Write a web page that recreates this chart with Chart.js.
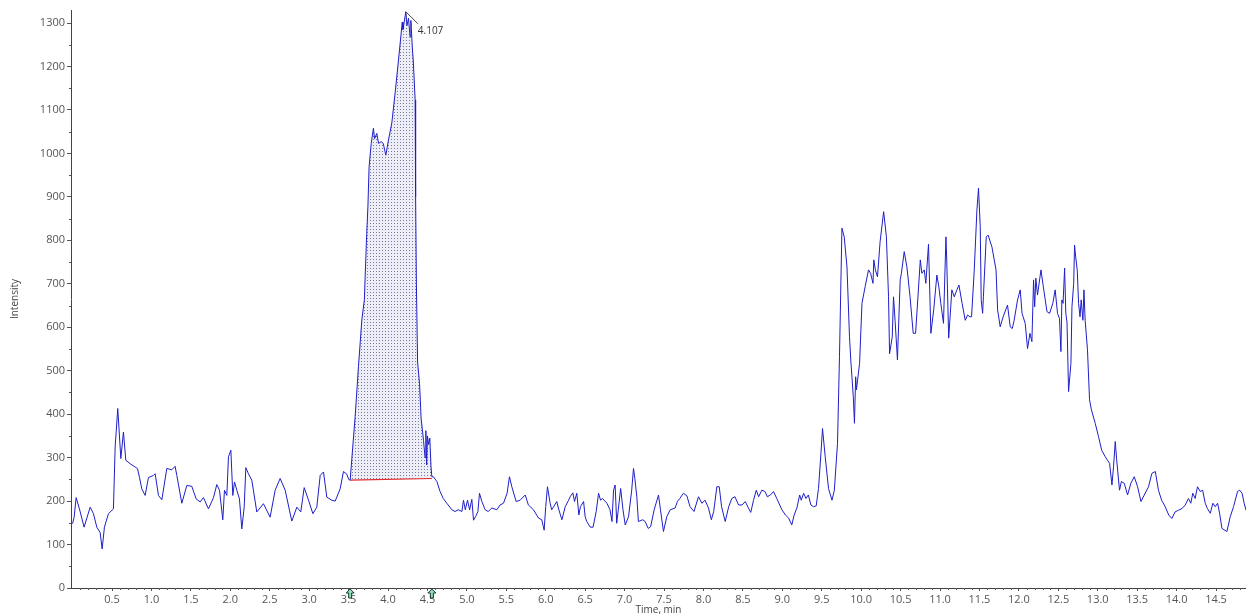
<!DOCTYPE html>
<html>
<head>
<meta charset="utf-8">
<script src="https://cdn.jsdelivr.net/npm/chart.js@4.4.1/dist/chart.umd.min.js"></script>
<style>
  html, body { margin: 0; padding: 0; background: #fff; }
  #wrap { width: 1246px; height: 616px; position: relative; }
</style>
</head>
<body>
<div id="wrap"><canvas id="chromChart"></canvas></div>
<script>
// retention time (min) and intensity
const times = [
  0.00, 0.02, 0.045, 0.087, 0.146, 0.223, 0.265, 0.307, 0.349, 0.375, 0.404, 0.455, 0.518, 0.54, 0.573, 0.612,
  0.645, 0.675, 0.73, 0.78, 0.823, 0.848, 0.878, 0.92, 0.962, 1.026, 1.047, 1.089, 1.132, 1.195, 1.258, 1.30,
  1.322, 1.385, 1.449, 1.512, 1.567, 1.618, 1.66, 1.723, 1.787, 1.829, 1.863, 1.905, 1.926, 1.956, 1.977, 2.007,
  2.032, 2.053, 2.083, 2.116, 2.146, 2.176, 2.197, 2.23, 2.273, 2.336, 2.42, 2.505, 2.569, 2.632, 2.696, 2.78,
  2.844, 2.894, 2.937, 2.992, 3.047, 3.097, 3.14, 3.182, 3.224, 3.287, 3.33, 3.393, 3.435, 3.478, 3.50, 3.52,
  3.54, 3.583, 3.625, 3.668, 3.70, 3.71, 3.73, 3.745, 3.76, 3.787, 3.815, 3.83, 3.858, 3.88, 3.913, 3.94,
  3.972, 4.006, 4.048, 4.09, 4.133, 4.167, 4.18, 4.19, 4.205, 4.226, 4.24, 4.26, 4.28, 4.29, 4.31, 4.32,
  4.344, 4.35, 4.36, 4.375, 4.40, 4.42, 4.45, 4.47, 4.48, 4.49, 4.50, 4.515, 4.53, 4.545, 4.556, 4.576,
  4.62, 4.66, 4.70, 4.746, 4.81, 4.85, 4.89, 4.937, 4.957, 4.98, 5.008, 5.035, 5.063, 5.084, 5.11, 5.14,
  5.16, 5.19, 5.232, 5.27, 5.317, 5.38, 5.42, 5.464, 5.51, 5.54, 5.57, 5.625, 5.675, 5.74, 5.78, 5.845,
  5.908, 5.95, 5.98, 6.00, 6.022, 6.056, 6.075, 6.10, 6.14, 6.16, 6.205, 6.247, 6.29, 6.31, 6.344, 6.365,
  6.394, 6.42, 6.44, 6.48, 6.50, 6.52, 6.564, 6.60, 6.64, 6.67, 6.695, 6.72, 6.776, 6.815, 6.84, 6.86,
  6.88, 6.90, 6.92, 6.95, 6.98, 7.008, 7.05, 7.09, 7.113, 7.13, 7.155, 7.175, 7.23, 7.26, 7.30, 7.33,
  7.375, 7.43, 7.455, 7.493, 7.535, 7.578, 7.64, 7.67, 7.70, 7.747, 7.79, 7.83, 7.88, 7.937, 7.98, 8.02,
  8.064, 8.10, 8.13, 8.17, 8.20, 8.23, 8.276, 8.32, 8.36, 8.40, 8.445, 8.49, 8.53, 8.57, 8.60, 8.635,
  8.67, 8.70, 8.74, 8.78, 8.81, 8.85, 8.888, 8.93, 8.995, 9.04, 9.08, 9.12, 9.15, 9.185, 9.22, 9.24,
  9.27, 9.30, 9.33, 9.363, 9.395, 9.43, 9.459, 9.49, 9.51, 9.544, 9.586, 9.63, 9.66, 9.70, 9.725, 9.756,
  9.785, 9.82, 9.852, 9.87, 9.90, 9.915, 9.93, 9.94, 9.98, 10.01, 10.05, 10.093, 10.12, 10.15, 10.16, 10.18,
  10.207, 10.24, 10.285, 10.32, 10.347, 10.36, 10.394, 10.41, 10.43, 10.46, 10.495, 10.51, 10.546, 10.58, 10.62, 10.66,
  10.69, 10.72, 10.75, 10.77, 10.80, 10.82, 10.854, 10.884, 10.92, 10.96, 10.985, 11.01, 11.044, 11.075, 11.085, 11.11,
  11.15, 11.18, 11.214, 11.24, 11.28, 11.32, 11.35, 11.38, 11.40, 11.434, 11.468, 11.488, 11.51, 11.522, 11.54, 11.55,
  11.586, 11.61, 11.658, 11.71, 11.73, 11.763, 11.80, 11.856, 11.89, 11.916, 11.94, 11.983, 12.017, 12.04, 12.08, 12.11,
  12.14, 12.165, 12.186, 12.20, 12.215, 12.236, 12.28, 12.31, 12.356, 12.39, 12.43, 12.46, 12.49, 12.515, 12.533, 12.545,
  12.56, 12.58, 12.595, 12.61, 12.63, 12.66, 12.673, 12.695, 12.706, 12.72, 12.74, 12.757, 12.775, 12.79, 12.812, 12.825,
  12.84, 12.87, 12.896, 12.92, 12.968, 13.01, 13.05, 13.095, 13.12, 13.15, 13.18, 13.20, 13.222, 13.24, 13.276, 13.30,
  13.336, 13.378, 13.42, 13.463, 13.505, 13.548, 13.59, 13.644, 13.687, 13.73, 13.77, 13.81, 13.856, 13.90, 13.94, 13.98,
  14.024, 14.07, 14.11, 14.15, 14.18, 14.205, 14.235, 14.265, 14.30, 14.33, 14.363, 14.39, 14.427, 14.46, 14.49, 14.52,
  14.545, 14.575, 14.638, 14.68, 14.722, 14.773, 14.80, 14.83, 14.857, 14.88
];
const intensity = [
  148, 163, 208, 182, 140, 186, 171, 140, 128, 90, 140, 171, 182, 325, 413, 298,
  359, 294, 286, 280, 275, 255, 228, 213, 254, 259, 263, 213, 203, 275, 272, 280,
  259, 195, 236, 234, 205, 198, 208, 182, 208, 238, 225, 157, 225, 213, 302, 317,
  213, 244, 225, 205, 136, 186, 277, 263, 248, 175, 194, 163, 225, 252, 225, 154,
  186, 175, 231, 202, 171, 186, 259, 267, 209, 202, 200, 228, 268, 262, 250, 248,
  295, 394, 509, 617, 663, 716, 816, 877, 969, 1023, 1058, 1034, 1046, 1023, 1027, 1023,
  996, 1031, 1070, 1139, 1215, 1277, 1302, 1285, 1302, 1326, 1294, 1311, 1268, 1306, 1238, 1215,
  1123, 900, 700, 520, 470, 390, 340, 300, 362, 283, 350, 330, 345, 280, 256, 256,
  245, 222, 206, 195, 180, 176, 180, 176, 202, 180, 202, 180, 204, 156, 164, 176,
  218, 199, 180, 176, 184, 180, 191, 195, 218, 256, 233, 199, 202, 214, 191, 180,
  161, 157, 133, 187, 233, 195, 180, 187, 199, 184, 157, 187, 202, 210, 219, 199,
  218, 168, 187, 199, 164, 153, 140, 140, 176, 218, 202, 206, 195, 180, 153, 225,
  237, 149, 180, 229, 180, 145, 164, 225, 275, 252, 210, 153, 157, 153, 137, 141,
  180, 214, 180, 130, 164, 180, 184, 199, 206, 218, 212, 187, 176, 210, 195, 202,
  184, 157, 176, 233, 233, 187, 153, 187, 206, 210, 191, 191, 199, 184, 174, 202,
  225, 210, 225, 222, 210, 214, 222, 206, 180, 168, 161, 145, 168, 184, 214, 202,
  218, 206, 214, 191, 187, 189, 229, 310, 367, 302, 229, 202, 225, 333, 532, 828,
  808, 739, 578, 520, 440, 379, 486, 456, 517, 655, 693, 732, 724, 701, 755, 732,
  716, 797, 866, 808, 670, 539, 578, 670, 616, 525, 709, 724, 774, 739, 670, 586,
  586, 670, 755, 724, 732, 701, 791, 586, 640, 720, 693, 655, 609, 808, 755, 575,
  686, 670, 686, 697, 655, 616, 628, 624, 624, 732, 870, 920, 831, 663, 632, 670,
  808, 812, 785, 732, 640, 601, 624, 651, 601, 597, 616, 663, 686, 632, 609, 551,
  586, 567, 709, 647, 713, 674, 732, 693, 636, 632, 655, 686, 632, 620, 544, 663,
  655, 736, 632, 612, 452, 517, 647, 701, 789, 762, 732, 655, 624, 663, 616, 686,
  616, 548, 433, 410, 379, 348, 317, 302, 295, 287, 237, 279, 337, 295, 225, 245,
  241, 214, 241, 256, 233, 199, 214, 233, 264, 268, 225, 202, 187, 168, 160, 175,
  179, 183, 191, 206, 195, 218, 206, 233, 222, 225, 195, 183, 172, 195, 187, 195,
  172, 137, 130, 164, 187, 222, 225, 218, 195, 179
];

// integrated peak: start/end time and baseline intensity
const peakBounds = [3.52, 4.556];
const peakBaseline = [248, 252];
const peakLabel = '4.107';

// axis ticks
const xTicks = [0.5, 1.0, 1.5, 2.0, 2.5, 3.0, 3.5, 4.0, 4.5, 5.0, 5.5, 6.0, 6.5, 7.0, 7.5,
  8.0, 8.5, 9.0, 9.5, 10.0, 10.5, 11.0, 11.5, 12.0, 12.5, 13.0, 13.5, 14.0, 14.5];
const yTicks = [0, 100, 200, 300, 400, 500, 600, 700, 800, 900, 1000, 1100, 1200, 1300];

const FONT = "'Open Sans', 'Noto Sans', sans-serif";

document.addEventListener('DOMContentLoaded', () => {
    const trace = times.map((t, i) => ({ x: t, y: intensity[i] }));
    const peakArea = trace.filter(p => p.x >= peakBounds[0] && p.x <= peakBounds[1]);
    const baseLine = [
        { x: peakBounds[0], y: peakBaseline[0] },
        { x: peakBounds[1], y: peakBaseline[1] }
    ];

    // dotted fill like the integration shading
    const tile = document.createElement('canvas');
    tile.width = 3; tile.height = 3;
    const tctx = tile.getContext('2d');
    tctx.fillStyle = 'rgb(238,238,246)';
    tctx.fillRect(0, 0, 3, 3);
    tctx.fillStyle = 'rgb(120,120,165)';
    tctx.fillRect(1, 1, 1, 1);
    const ctx = document.getElementById('chromChart').getContext('2d');
    const dots = ctx.createPattern(tile, 'repeat');

    // minor ticks, peak label and integration markers
    const extras = {
        id: 'extras',
        afterDraw(chart) {
            const c = chart.ctx;
            const xs = chart.scales.x, ys = chart.scales.y;
            const area = chart.chartArea;
            c.save();
            c.strokeStyle = '#555';
            c.lineWidth = 1;
            c.beginPath();
            for (let v = 0.1; v < xs.max; v += 0.1) {
                const r = Math.round(v * 10);
                if (r % 5 === 0) continue;
                const px = Math.round(xs.getPixelForValue(v)) + 0.5;
                c.moveTo(px, area.bottom);
                c.lineTo(px, area.bottom + 2);
            }
            for (let v = 50; v < ys.max; v += 100) {
                const py = Math.round(ys.getPixelForValue(v)) + 0.5;
                c.moveTo(area.left, py);
                c.lineTo(area.left - 2, py);
            }
            c.stroke();

            // apex label
            let k = 0;
            peakArea.forEach((p, i) => { if (p.y > peakArea[k].y) k = i; });
            const ax = xs.getPixelForValue(peakArea[k].x);
            const ay = ys.getPixelForValue(peakArea[k].y);
            c.strokeStyle = '#444';
            c.beginPath();
            c.moveTo(ax, ay);
            c.lineTo(ax + 12, ay + 12);
            c.stroke();
            c.fillStyle = '#333';
            c.font = '10px ' + FONT;
            c.textBaseline = 'middle';
            c.fillText(peakLabel, ax + 12, ay + 19);

            // start / end arrows under the axis
            peakBounds.forEach(t => {
                const px = xs.getPixelForValue(t);
                const top = area.bottom + 1;
                c.beginPath();
                c.moveTo(px, top);
                c.lineTo(px + 4, top + 4);
                c.lineTo(px + 1.5, top + 4);
                c.lineTo(px + 1.5, top + 9);
                c.lineTo(px - 1.5, top + 9);
                c.lineTo(px - 1.5, top + 4);
                c.lineTo(px - 4, top + 4);
                c.closePath();
                c.fillStyle = '#8fe0b8';
                c.fill();
                c.strokeStyle = '#1a3a2a';
                c.stroke();
            });
            c.restore();
        }
    };

    const config = {
        type: 'line',
        data: {
            datasets: [
                {
                    label: 'trace',
                    data: trace,
                    borderColor: 'rgb(30,30,200)',
                    borderWidth: 1,
                    pointRadius: 0,
                    tension: 0,
                    fill: false
                },
                {
                    label: 'baseline',
                    data: baseLine,
                    borderColor: 'rgb(230,40,40)',
                    borderWidth: 1.2,
                    pointRadius: 0,
                    fill: false
                },
                {
                    label: 'peak',
                    data: peakArea,
                    borderWidth: 0,
                    borderColor: 'rgba(0,0,0,0)',
                    backgroundColor: dots,
                    pointRadius: 0,
                    tension: 0,
                    fill: 1
                }
            ]
        },
        options: {
            responsive: true,
            maintainAspectRatio: false,
            animation: false,
            layout: { padding: { top: 10, right: 0, left: 0, bottom: 0 } },
            plugins: {
                legend: { display: false },
                tooltip: { enabled: false }
            },
            scales: {
                x: {
                    type: 'linear',
                    min: -0.02,
                    max: 14.88,
                    afterBuildTicks: s => { s.ticks = xTicks.map(v => ({ value: v })); },
                    afterFit: s => { s.height = 28; },
                    ticks: {
                        autoSkip: false,
                        maxRotation: 0,
                        padding: 2,
                        color: '#555',
                        font: { family: FONT, size: 11 },
                        callback: v => Number(v).toFixed(1)
                    },
                    grid: { display: true, drawOnChartArea: false, tickLength: 3, color: '#555' },
                    border: { display: true, color: '#444' },
                    title: {
                        display: true,
                        text: 'Time, min',
                        color: '#444',
                        font: { family: FONT, size: 10 },
                        padding: { top: 0, bottom: 0 }
                    }
                },
                y: {
                    min: 0,
                    max: 1330,
                    afterBuildTicks: s => { s.ticks = yTicks.map(v => ({ value: v })); },
                    afterFit: s => { s.width = 71; },
                    ticks: {
                        autoSkip: false,
                        padding: 2,
                        color: '#555',
                        font: { family: FONT, size: 11 },
                        callback: v => String(v)
                    },
                    grid: { display: true, drawOnChartArea: false, tickLength: 4, color: '#555' },
                    border: { display: true, color: '#444' },
                    title: {
                        display: true,
                        text: 'Intensity',
                        color: '#444',
                        font: { family: FONT, size: 10 },
                        padding: { top: 9, bottom: 0 }
                    }
                }
            }
        },
        plugins: [extras]
    };

    new Chart(ctx, config);
});
</script>
</body>
</html>
